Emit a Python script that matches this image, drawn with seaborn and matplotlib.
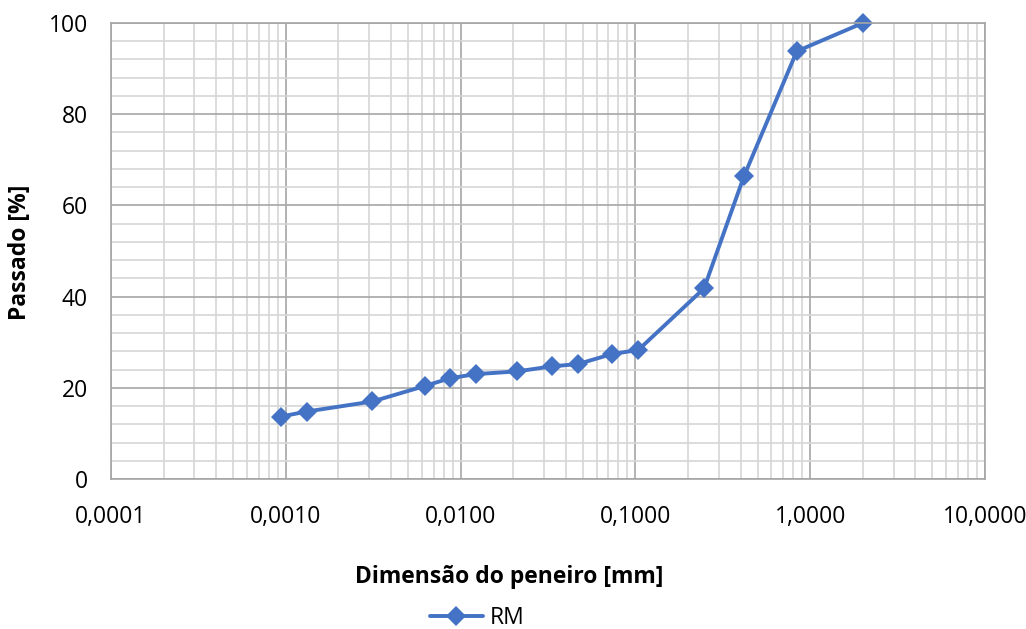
import matplotlib
matplotlib.use("Agg")
import matplotlib.pyplot as plt
import seaborn as sns
import pandas as pd
import numpy as np
from matplotlib.ticker import FixedLocator, NullFormatter

# Sieve sizes (mm) and cumulative percent passing for sample RM
sieve_mm = [0.00094, 0.00132, 0.00313, 0.00625, 0.00869, 0.0122, 0.0211,
            0.0332, 0.0468, 0.0735, 0.104, 0.247, 0.418, 0.838, 2.0]
passing_pct = [13.7, 14.8, 17.0, 20.4, 22.1, 23.0, 23.6,
               24.7, 25.2, 27.4, 28.3, 41.8, 66.4, 93.8, 100.0]
series_name = "RM"

x_ticks = [0.0001, 0.001, 0.01, 0.1, 1.0, 10.0]
x_tick_labels = ["0,0001", "0,0010", "0,0100", "0,1000", "1,0000", "10,0000"]
y_ticks = [0, 20, 40, 60, 80, 100]

df = pd.DataFrame({"Dimensão": sieve_mm, "Passado": passing_pct,
                   "Amostra": [series_name] * len(sieve_mm)})

sns.set_theme(style="white")
plt.rcParams["font.family"] = ["Open Sans", "DejaVu Sans"]
plt.rcParams["text.color"] = "black"

fig = plt.figure(figsize=(10.26, 6.29), dpi=100)
ax = fig.add_axes([111 / 1026, 1 - 479 / 629, (985 - 111) / 1026, (479 - 23) / 629])

major_c = "#a6a6a6"
minor_c = "#d6d6d6"
line_c = "#4472C4"

ax.set_xscale("log")
ax.set_xlim(0.0001, 10)
ax.set_ylim(0, 100)

# grid: decades / every 20 in darker grey, subdivisions lighter
ax.xaxis.set_major_locator(FixedLocator(x_ticks))
ax.xaxis.set_minor_locator(FixedLocator(
    [m * 10.0 ** e for e in range(-4, 1) for m in range(2, 10)]))
ax.yaxis.set_major_locator(FixedLocator(y_ticks))
ax.yaxis.set_minor_locator(FixedLocator([v for v in range(0, 101, 4) if v % 20]))
ax.xaxis.set_minor_formatter(NullFormatter())
ax.set_xticklabels(x_tick_labels)

ax.grid(which="major", color=major_c, linewidth=1.2)
ax.grid(which="minor", color=minor_c, linewidth=1.2)
ax.set_axisbelow(True)

for side in ["left", "bottom", "top", "right"]:
    ax.spines[side].set_color(major_c)
    ax.spines[side].set_linewidth(1.2)

ax.tick_params(axis="both", which="major", direction="out", length=6.5,
               width=1.2, color=major_c, labelsize=16.5, labelcolor="black")
ax.tick_params(axis="x", which="major", pad=12)
ax.tick_params(axis="y", which="major", pad=10)
ax.tick_params(axis="both", which="minor", length=0)

sns.lineplot(data=df, x="Dimensão", y="Passado", hue="Amostra",
             palette=[line_c], marker="D", markersize=10,
             markeredgewidth=0, linewidth=2.8, ax=ax, legend=False)
for ln in ax.lines:
    ln.set_clip_on(False)

ax.set_xlabel("")
ax.set_ylabel("")
fig.text(509 / 1026, 1 - 577 / 629, "Dimensão do peneiro [mm]",
         ha="center", va="center", fontsize=16.5, fontweight="bold",
         color="black")
fig.text(20 / 1026, 1 - 252 / 629, "Passado [%]", rotation=90,
         ha="center", va="center", fontsize=16.5, fontweight="bold",
         color="black")

handle = plt.Line2D([], [], color=line_c, marker="D", markersize=10,
                    markeredgewidth=0, linewidth=2.8)
leg = fig.legend([handle], [series_name], loc="center",
                 bbox_to_anchor=(477 / 1026, 1 - 618 / 629), frameon=False,
                 fontsize=16.5, handlelength=2.3, handletextpad=0.3,
                 numpoints=1, borderpad=0.1)
for t in leg.get_texts():
    t.set_color("black")

fig.savefig("out.png", dpi=100, facecolor="white")
